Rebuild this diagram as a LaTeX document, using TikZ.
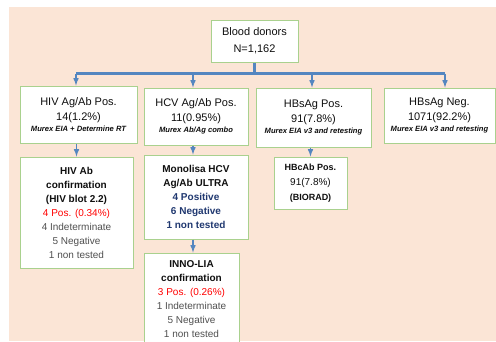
\documentclass[tikz,border=0pt]{standalone}
\usepackage{fontspec}
\setmainfont{Liberation Sans}
\usetikzlibrary{arrows,calc}

\definecolor{peach}{RGB}{251,229,214}
\definecolor{boxgreen}{RGB}{169,209,142}
\definecolor{linkblue}{RGB}{84,134,192}
\definecolor{posred}{RGB}{255,0,0}
\definecolor{navy}{RGB}{32,56,112}
\definecolor{txtgray}{RGB}{80,80,80}
\definecolor{txtdark}{RGB}{15,15,15}

\newcommand{\assay}[1]{{\fontsize{7.6}{9}\selectfont\bfseries\itshape #1}}
\newcommand{\smallbold}[1]{{\fontsize{9}{12}\selectfont\bfseries #1}}

\begin{document}
\begin{tikzpicture}[>=latex, x=1pt, y=-1pt]
			\tikzstyle{box}=[draw=boxgreen, fill=white, line width=1pt, inner sep=0pt, align=center, text=txtdark, font=\fontsize{11}{15}\selectfont]
			\tikzstyle{sub}=[box, text=txtgray, font=\fontsize{10}{14}\selectfont]
			\tikzstyle{link}=[linkblue, line width=1.5pt]
			\tikzstyle{bus}=[linkblue, line width=2.6pt]

			\useasboundingbox (0,0) rectangle (496,341);
			\fill [peach] (9,7) rectangle (496,341);

			\node (donors) [box, minimum width=87pt, minimum height=42pt] at (254.5,41) {Blood donors\\[2pt]N=1,162};

			\node (hiv) [box, minimum width=117pt, minimum height=57pt] at (78.5,114.5) {HIV Ag/Ab Pos.\\14(1.2\%)\\[-4pt]\assay{Murex EIA + Determine RT}};
			\node (hcv) [box, minimum width=104pt, minimum height=57pt] at (196,116.5) {HCV Ag/Ab Pos.\\11(0.95\%)\\[-4pt]\assay{Murex Ab/Ag combo}};
			\node (hbs) [box, minimum width=115pt, minimum height=59pt] at (313.5,117.5) {HBsAg Pos.\\91(7.8\%)\\[-3pt]\assay{Murex EIA v3 and retesting}};
			\node (neg) [box, minimum width=111pt, minimum height=55pt] at (439.5,115.5) {HBsAg Neg.\\1071(92.2\%)\\[-4pt]\assay{Murex EIA v3 and retesting}};

			\node (hivab) [sub, minimum width=113pt, minimum height=111pt] at (76.5,212.5) {\textcolor{txtdark}{\bfseries HIV Ab}\\\textcolor{txtdark}{\bfseries confirmation}\\\textcolor{txtdark}{\bfseries (HIV blot 2.2)}\\\textcolor{posred}{4 Pos. (0.34\%)}\\4 Indeterminate\\5 Negative\\1 non tested};
			\node (mono) [sub, minimum width=104pt, minimum height=84pt] at (196,197) {\textcolor{txtdark}{\bfseries Monolisa HCV}\\\textcolor{txtdark}{\bfseries Ag/Ab ULTRA}\\\textcolor{navy}{\bfseries 4 Positive}\\\textcolor{navy}{\bfseries 6 Negative}\\\textcolor{navy}{\bfseries 1 non tested}};
			\node (inno) [sub, minimum width=95pt, minimum height=92pt] at (191.5,299) {\textcolor{txtdark}{\bfseries INNO-LIA}\\\textcolor{txtdark}{\bfseries confirmation}\\\textcolor{posred}{3 Pos. (0.26\%)}\\1 Indeterminate\\5 Negative\\1 non tested};
			\node (hbc) [box, font=\fontsize{10}{15}\selectfont, minimum width=73pt, minimum height=52pt] at (310.5,183) {\smallbold{HBcAb Pos.}\\91(7.8\%)\\\smallbold{(BIORAD)}};

			\draw [bus] (donors.south) -- ++(0,11) coordinate (fork);
			\draw [bus] ($(hiv.north |- fork)+(-2.5,0)$) -- ($(neg.north |- fork)+(5.5,0)$);
			\draw [link,->] ($(hiv.north |- fork)+(-2.5,0)$) -- ($(hiv.north)+(-2.5,0)$);
			\draw [link,->] ($(hcv.north |- fork)+(-3,0)$) -- ($(hcv.north)+(-3,0)$);
			\draw [link,->] ($(hbs.north |- fork)+(-1.5,0)$) -- ($(hbs.north)+(-1.5,0)$);
			\draw [link,->] ($(neg.north |- fork)+(5.5,0)$) -- ($(neg.north)+(5.5,0)$);

			\draw [link,->] (hiv.south -| hivab.north) -- (hivab.north);
			\draw [link,->] ($(hcv.south)+(-3,0)$) -- ($(mono.north)+(-3,0)$);
			\draw [link,->] ($(mono.south)+(-3,0)$) -- ($(mono.south |- inno.north)+(-3,0)$);
			\draw [link,->] (hbc.north |- hbs.south) -- (hbc.north);
		\end{tikzpicture}
\end{document}
